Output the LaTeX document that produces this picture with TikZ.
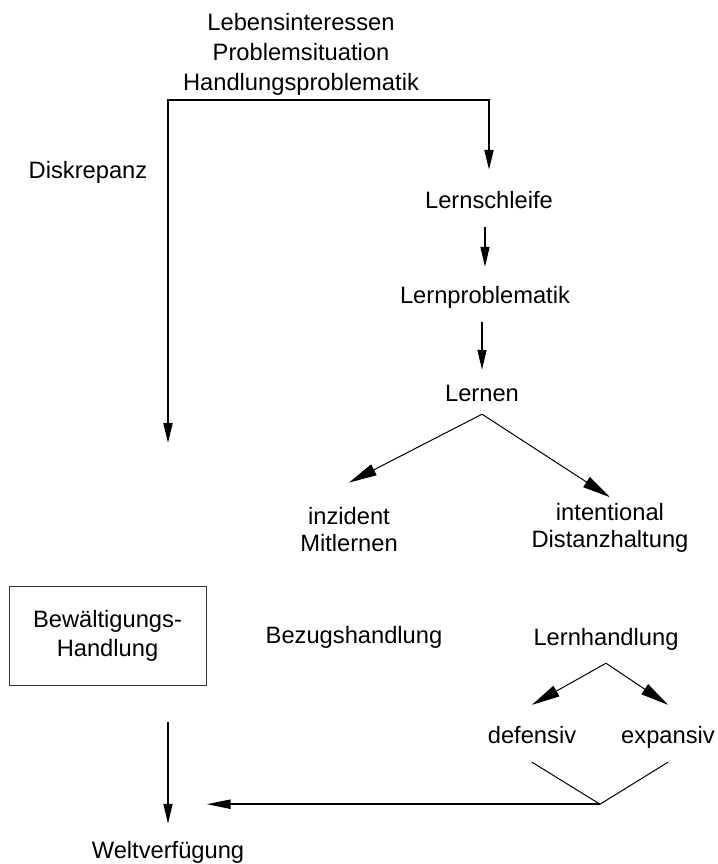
\documentclass[tikz,border=0pt]{standalone}
\usepackage{fontspec}
\setmainfont{Liberation Sans}
\usetikzlibrary{arrows.meta,positioning,calc}

\begin{document}
\begin{tikzpicture}[x=1pt,y=-1pt,
  every node/.style={inner sep=0pt,font=\fontsize{23.7}{27}\selectfont},
  lbl/.style={text height=17pt,text depth=5pt},
  multi/.style={align=center},
  arr/.style={-{Triangle[length=20pt,width=9pt]},line width=1.5pt},
  darr/.style={-{Triangle[length=28pt,width=12pt]},line width=1pt}]
  \useasboundingbox (0,0) rectangle (717,864);
  \node (lage) [multi,font=\fontsize{23.7}{30}\selectfont] at (301,54)
    {Lebensinteressen\\Problemsituation\\Handlungsproblematik};
  \node (diskrepanz) [lbl] at (88,172) {Diskrepanz};
  \node (schleife) [lbl] at (489,202) {Lernschleife};
  \node (lernprob) [lbl] at (485,297) {Lernproblematik};
  \node (lernen) [lbl] at (482,395) {Lernen};
  \node (inzident) [multi] at (349,530) {inzident\\Mitlernen};
  \node (intentional) [multi] at (610,528) {intentional\\Distanzhaltung};
  \node (bewaelt) [draw=black!80,line width=1pt,multi,minimum width=197pt,minimum height=99pt,
    font=\fontsize{23.7}{29}\selectfont] at (107.5,635.5) {Bewältigungs-\\Handlung};
  \node (bezug) [lbl] at (354,637) {Bezugshandlung};
  \node (lernhandlung) [lbl] at (606,639) {Lernhandlung};
  \node (defensiv) [lbl] at (532,737) {defensiv};
  \node (expansiv) [lbl] at (668,737) {expansiv};
  \node (welt) [lbl] at (168,852) {Weltverfügung};
  % fork points of the connectors
  \coordinate (fork) at (168,100);
  \coordinate (disktip) at (168,443);
  \coordinate (lapex) at ([yshift=-8pt]lernen.south);
  \coordinate (hapex) at ([yshift=-13pt]lernhandlung.south);
  \coordinate (vtip) at ($(defensiv.south)!0.5!(expansiv.south)+(0,56)$);
  \draw[{Triangle[length=20pt,width=9pt]}-{Triangle[length=20pt,width=9pt]},line width=2pt]
    (disktip) -- (fork) -| ([yshift=21pt]schleife.north);
  \draw[arr,shorten <=14pt,shorten >=19pt] (lernprob.north |- schleife.south) -- (lernprob.north);
  \draw[arr,shorten <=14pt,shorten >=14pt] (lernen.north |- lernprob.south) -- (lernen.north);
  \draw[darr] (lapex) -- ([yshift=25pt]inzident.north);
  \draw[darr] (lapex) -- ([yshift=6pt]intentional.north);
  \draw[darr] (hapex) -- ([yshift=21pt]defensiv.north);
  \draw[darr] (hapex) -- ([yshift=21pt]expansiv.north);
  \draw[line width=1pt] ([yshift=-14pt]defensiv.south) -- (vtip) -- ([yshift=-14pt]expansiv.south);
  \draw[-{Triangle[length=24pt,width=9pt]},line width=2pt] (vtip) -- (vtip -| bewaelt.east);
  \draw[arr,shorten <=36pt,shorten >=17pt] (welt.north |- bewaelt.south) -- (welt.north);
\end{tikzpicture}
\end{document}
